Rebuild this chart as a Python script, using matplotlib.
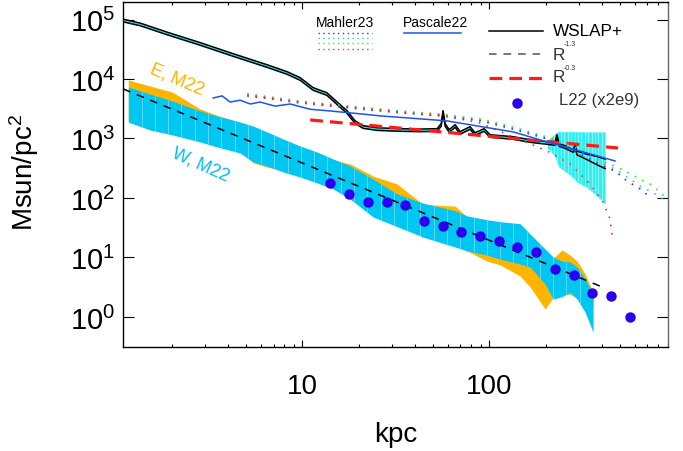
import numpy as np
import matplotlib
matplotlib.use("Agg")
import matplotlib.pyplot as plt
from matplotlib.ticker import NullLocator, LogLocator, NullFormatter

plt.rcParams['font.family'] = ['Liberation Sans', 'DejaVu Sans']
plt.rcParams['mathtext.fontset'] = 'custom'
plt.rcParams['mathtext.rm'] = 'Liberation Sans'
plt.rcParams['mathtext.it'] = 'Liberation Sans:italic'

# ---- M22 bands (E and W), surface density in Msun/pc^2
m22_r = [1.17, 1.53, 2.01, 2.84, 3.50, 4.64, 5.45, 6.47, 7.88, 9.72, 11.98, 14.59,
         17.99, 23.88, 32.09, 44.2, 65.6, 76.0, 97.2, 114.1, 145.9, 165.1, 198.6,
         219.1, 244.8, 270.2, 294.4, 324.9, 358.5]
w_hi = [7340, 5600, 4270, 2900, 2390, 1890, 1620, 1290, 982, 748, 593, 452,
        345, 208, 117, 82, 61, 50, 43, 40, 37, 24.8, 13.9,
        10.2, 8.7, 8.4, 6.9, 4.4, 2.4]
w_lo = [1890, 1390, 1150, 874, 719, 571, 403, 345, 274, 225, 179, 142,
        96, 48, 33, 22, 15, 12.9, 11.0, 9.4, 7.8, 6.9, 3.6,
        2.0, 2.2, 2.6, 2.0, 1.21, 0.56]
e_hi = [9620, 7620, 6050, 3130, 2450, 1850, 1550, 1230, 940, 720, 570, 440,
        373, 234, 172, 78, 73, 48, 41, 38, 35, 23.5, 13.2,
        9.7, 13.4, 11, 8.7, 5.3, 2.6]
e_lo = [2000, 1460, 1210, 920, 755, 600, 390, 330, 288, 236, 188, 149,
        101, 50, 35, 23, 15.8, 12.9, 8.7, 7.5, 4.9, 3.2, 1.36,
        2.1, 2.4, 2.4, 2.1, 1.79, 1.5]

# ---- WSLAP+ profile (two solutions) and its error band
wslap_r = [1.10, 1.36, 1.89, 2.84, 4.26, 6.47, 8.28, 9.72, 11.4, 13.5, 15.9, 17.3,
           19.1, 21.1, 25.1, 33.3, 42.6, 52.5, 55.2, 56.5, 58.0, 60.9, 65.6, 69.7,
           78.8, 83.8, 93.7, 101, 134, 165, 204, 224, 230, 236, 254, 281, 287, 294,
           333, 377, 416]
wslap_c = [9.6e4, 8.24e4, 5.82e4, 3.88e4, 2.53e4, 1.65e4, 1.26e4, 1.0e4, 6.8e3, 5.6e3,
           3.52e3, 2.79e3, 1.89e3, 1.56e3, 1.44e3, 1.39e3, 1.37e3, 1.39e3, 1.69e3,
           2.79e3, 1.69e3, 1.34e3, 1.62e3, 1.24e3, 1.5e3, 1.19e3, 1.39e3, 1.10e3,
           1.02e3, 908, 840, 808, 1100, 778, 719, 617, 748, 571, 489, 424, 375]
wslap_spread = [0.022] * 37 + [0.03, 0.045, 0.07, 0.08]   # dex between the two solutions
band_r = [204, 224, 230, 236, 254, 281, 287, 294, 333, 377, 416]
band_hi = [930, 1200, 1300, 1300, 1300, 1300, 1300, 1300, 1290, 1290, 1290]
band_lo = [700, 500, 400, 330, 280, 220, 200, 186, 150, 108, 79]

# ---- Mahler23 (four dotted profiles)
mah_r = [5.06, 6.72, 9.72, 18.0, 33.3, 54.5, 89.2, 134, 204, 270, 345, 405, 470, 545,
         640, 723, 818, 891]
mah_green = [5600, 5000, 4250, 3500, 2900, 2580, 2130, 1560, 1060, 778, 549, 403, 345,
             274, 208, 172, 126, 96]
mah_cyan = [5390, 4800, 4100, 3380, 2790, 2480, 2050, 1500, 1020, 719, 508, 373, 307,
            225, 159, 131, 104, 86]
mah_blue = [5200, 4650, 3950, 3250, 2700, 2400, 1990, 1440, 982, 666, 452, 345, 284,
            193, 142, 104]
mah_red_r = [5.06, 6.72, 9.72, 18.0, 33.3, 54.5, 89.2, 134, 204, 270, 345, 405, 442, 453]
mah_red = [5390, 4800, 4100, 3380, 2790, 2480, 1820, 1060, 617, 373, 172, 86, 44, 23]

# ---- Pascale22
pas_r = [3.33, 3.72, 4.1, 4.64, 5.26, 5.93, 7.14, 8.6, 11.0, 14.1, 20.3, 26.0, 59.0,
         134, 204, 304, 470]
pas_y = [4800, 5200, 4100, 4400, 3800, 4100, 3500, 3800, 3100, 2900, 2600, 2400, 1980,
         1290, 874, 617, 419]

# ---- power laws R^-1.3 and R^-0.3 (end points)
p13_r = [1.1, 391]
p13_y = [6800, 3.3]
p03_r = [11.0, 488]
p03_y = [2050, 692]

# ---- L22 (x2e9)
l22_r = [14.1, 17.8, 22.4, 28.2, 35.5, 44.7, 56.2, 70.8, 89.1, 112, 141, 178, 224, 282,
         355, 447, 562]
l22_y = [178, 117, 85, 85, 76, 41.5, 33.4, 26.5, 23.2, 19.1, 15.2, 12.2, 6.4, 5.0,
         2.56, 2.23, 1.01]

ORANGE = '#FFB400'
SKY = '#00C6F2'
AQUA = '#30F0F0'

fig = plt.figure(figsize=(6.83, 4.52), dpi=100)
ax = fig.add_axes([0.1805, 0.2308, 0.798, 0.7626])
ax.set_xscale('log')
ax.set_yscale('log')


def stripes(xs, lo, hi, n, col, z):
    # thin light seams across a filled band
    sx = np.geomspace(xs[0], xs[-1], n)[1:-1]
    lx = np.log10(xs)
    slo = 10 ** np.interp(np.log10(sx), lx, np.log10(lo))
    shi = 10 ** np.interp(np.log10(sx), lx, np.log10(hi))
    ax.vlines(sx, slo, shi, color=col, lw=0.5, zorder=z)


# M22 bands
ax.fill_between(m22_r, e_lo, e_hi, color=ORANGE, lw=0, zorder=1)
ax.fill_between(m22_r, w_lo, w_hi, color=SKY, lw=0, zorder=2)
stripes(m22_r, w_lo, w_hi, 36, '#80DDF4', 2.1)

# WSLAP+
c = np.array(wslap_c)
s = 10 ** np.array(wslap_spread)
ax.fill_between(wslap_r, c / s, c * s, color=AQUA, lw=0, zorder=3)
ax.fill_between(band_r, band_lo, band_hi, color=AQUA, lw=0, zorder=3)
stripes(band_r, band_lo, band_hi, 18, '#B0FAFA', 3.1)
ax.plot(wslap_r, c * s, color='k', lw=1.1, zorder=4)
ax.plot(wslap_r, c / s, color='k', lw=1.1, zorder=4)

# power laws
ax.plot(p13_r, p13_y, color='k', lw=1.1, dashes=(5, 4.5), zorder=4)
ax.plot(p03_r, p03_y, color='#FF1A1A', lw=2.3, dashes=(4, 2.2), zorder=4.2)

# Mahler23
dot = (0, (1, 4))
ax.plot(mah_r, mah_green, color='#30E830', lw=1.2, ls=dot, zorder=5)
ax.plot(mah_r, mah_cyan, color='#30C8D8', lw=1.2, ls=dot, zorder=5)
ax.plot(mah_r[:len(mah_blue)], mah_blue, color='#3030FF', lw=1.2, ls=dot, zorder=5)
ax.plot(mah_red_r, mah_red, color='#FF3030', lw=1.2, ls=dot, zorder=5)

# Pascale22
ax.plot(pas_r, pas_y, color='#1A55F0', lw=1.1, zorder=5.5)

# L22
ax.plot(l22_r, l22_y, 'o', color='#2A00EE', ms=7.5, mec='none', zorder=6)

ax.set_xlim(1.1, 906)
ax.set_ylim(0.317, 1.97e5)
ax.set_xticks([10, 100])
ax.set_xticklabels(['10', '100'])
ax.xaxis.set_minor_locator(LogLocator(base=10, subs=np.arange(2, 10)))
ax.xaxis.set_minor_formatter(NullFormatter())
ax.set_yticks([1e0, 1e1, 1e2, 1e3, 1e4, 1e5])
ax.set_yticklabels(['$10^{%d}$' % k for k in range(6)])
ax.yaxis.set_minor_locator(NullLocator())
ax.tick_params(which='both', direction='in', top=True, right=True, width=0.8)
ax.tick_params(axis='x', which='major', length=5, labelsize=20, pad=19)
ax.tick_params(axis='x', which='minor', length=2.5)
ax.tick_params(axis='y', which='major', length=8, labelsize=21, pad=6)
for sp in ax.spines.values():
    sp.set_linewidth(1.0)
ax.spines['right'].set_color('#666666')

ax.set_xlabel('kpc', fontsize=20)
ax.xaxis.set_label_coords(0.5, -0.215)
ax.set_ylabel('Msun/pc$^{2}$', fontsize=20)
ax.yaxis.set_label_coords(-0.151, 0.507)

# band labels
ax.text(2.14, 1.0e4, 'E, M22', color=ORANGE, fontsize=13, rotation=-23,
        ha='center', va='center')
ax.text(2.87, 373, 'W, M22', color='#00BFF0', fontsize=13, rotation=-24,
        ha='center', va='center')


# legend, placed in figure pixels
def P(px, py):
    return px / 683, 1 - py / 452


fig.text(*P(345, 23), 'Mahler23', fontsize=10, ha='center', va='center')
fig.text(*P(435, 23), 'Pascale22', fontsize=10, ha='center', va='center')
for py, col in [(33.7, '#3030FF'), (39, '#30C8D8'), (44.3, '#30E830'), (49.7, '#FF3030')]:
    fig.add_artist(plt.Line2D([318 / 683, 372 / 683], [1 - py / 452] * 2, color=col,
                              lw=1.0, ls=(0, (1, 2.5))))
fig.add_artist(plt.Line2D([404 / 683, 461 / 683], [1 - 33.7 / 452] * 2, color='#1A55F0', lw=1.1))

fig.add_artist(plt.Line2D([489 / 683, 543 / 683], [1 - 32 / 452] * 2, color='k', lw=1.1))
fig.text(*P(553, 31), 'WSLAP+', fontsize=12.3, ha='left', va='center')
fig.add_artist(plt.Line2D([489 / 683, 543 / 683], [1 - 55 / 452] * 2, color='#555555', lw=1.1,
                          dashes=(5, 4.5)))
fig.text(*P(553, 55), 'R', fontsize=12.3, ha='left', va='center', color='#333333')
fig.text(*P(564, 45), '-1.3', fontsize=5, ha='left', va='center', color='#333333')
fig.add_artist(plt.Line2D([489 / 683, 543 / 683], [1 - 79 / 452] * 2, color='#FF1A1A', lw=2.3,
                          dashes=(4, 2.2)))
fig.text(*P(553, 78), 'R', fontsize=12.3, ha='left', va='center', color='#333333')
fig.text(*P(564, 69), '-0.3', fontsize=5, ha='left', va='center', color='#333333')
fig.add_artist(plt.Line2D([517 / 683], [1 - 104 / 452], marker='o', color='#2A00EE', ms=7.5,
                          mec='none', ls='none'))
fig.text(*P(559, 100), 'L22 (x2e9)', fontsize=12, ha='left', va='center', color='#333333')

fig.savefig('out.png', dpi=100)
